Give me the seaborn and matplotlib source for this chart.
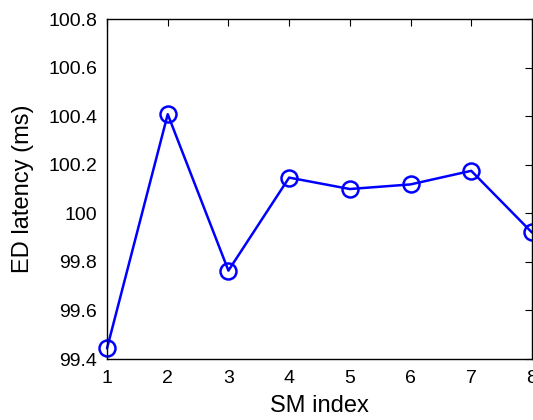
import seaborn as sns
import matplotlib.pyplot as plt
import pandas as pd

# SM index vs ED latency
sm_index = [1, 2, 3, 4, 5, 6, 7, 8]
ed_latency = [99.444, 100.408, 99.764, 100.147, 100.100, 100.119, 100.175, 99.921]
y_ticks = [99.4, 99.6, 99.8, 100.0, 100.2, 100.4, 100.6, 100.8]

sns.set_style("white")
plt.rcParams['font.family'] = ['Liberation Sans', 'DejaVu Sans']
plt.rcParams['text.color'] = 'black'
plt.rcParams['axes.labelcolor'] = 'black'
plt.rcParams['xtick.color'] = 'black'
plt.rcParams['ytick.color'] = 'black'

df = pd.DataFrame({"SM index": sm_index, "ED latency (ms)": ed_latency})

fig = plt.figure(figsize=(5.33, 4.2), dpi=100)
ax = fig.add_axes([0.2008, 0.1452, 0.7972, 0.8095])

sns.lineplot(data=df, x="SM index", y="ED latency (ms)", ax=ax,
             color="#0000ff", linewidth=1.8, marker="o", markersize=11.5,
             markerfacecolor="none", markeredgecolor="#0000ff", markeredgewidth=1.8)

ax.set_xlim(1, 8)
ax.set_ylim(99.4, 100.8)
ax.set_xticks(sm_index)
ax.set_yticks(y_ticks)
ax.set_yticklabels(["%g" % round(v, 1) for v in y_ticks])
ax.tick_params(direction="in", top=True, right=True, length=5, width=0.8,
               labelsize=14, color="black", labelcolor="black")
ax.tick_params(axis="y", pad=7)
ax.tick_params(axis="x", pad=8)
for s in ax.spines.values():
    s.set_color("black")
    s.set_linewidth(1.0)
    s.set_visible(True)
ax.set_xlabel("SM index", fontsize=17, labelpad=6)
ax.set_ylabel("ED latency (ms)", fontsize=17, labelpad=10)
for line in ax.lines:
    line.set_clip_on(False)

fig.savefig("out.png", dpi=100)
